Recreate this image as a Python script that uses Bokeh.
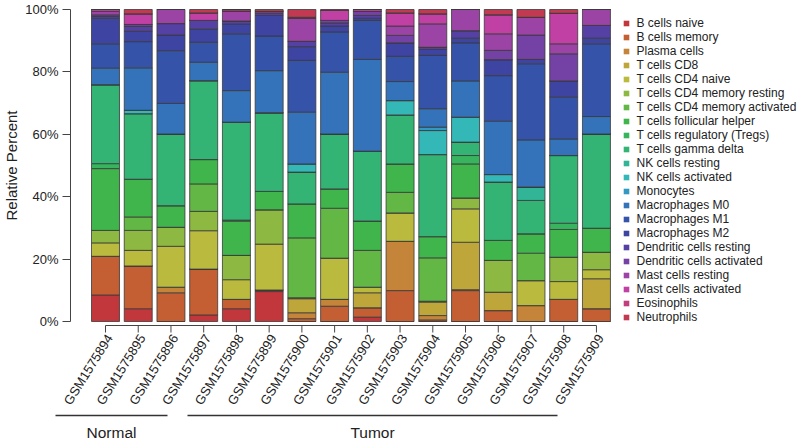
from bokeh.plotting import figure
from bokeh.models import (ColumnDataSource, Range1d, FixedTicker, PrintfTickFormatter,
                          Legend, LegendItem, LabelSet)
from bokeh.embed import file_html
from bokeh.resources import INLINE
from bokeh.core.properties import value

# ---------------- data ----------------
samples = ["GSM1575894", "GSM1575895", "GSM1575896", "GSM1575897", "GSM1575898",
           "GSM1575899", "GSM1575900", "GSM1575901", "GSM1575902", "GSM1575903",
           "GSM1575904", "GSM1575905", "GSM1575906", "GSM1575907", "GSM1575908",
           "GSM1575909"]
group_names = ["Normal", "Tumor"]

cell_types = ["B cells naive", "B cells memory", "Plasma cells", "T cells CD8",
              "T cells CD4 naive", "T cells CD4 memory resting",
              "T cells CD4 memory activated", "T cells follicular helper",
              "T cells regulatory (Tregs)", "T cells gamma delta", "NK cells resting",
              "NK cells activated", "Monocytes", "Macrophages M0", "Macrophages M1",
              "Macrophages M2", "Dendritic cells resting", "Dendritic cells activated",
              "Mast cells resting", "Mast cells activated", "Eosinophils", "Neutrophils"]

colors = ["#C1373C", "#C45E33", "#C4843A", "#BFA63B", "#B9BA3E", "#8DB842",
          "#62B745", "#40B54C", "#38B45E", "#33B474", "#31B596", "#33B7B7",
          "#3499C2", "#3473BA", "#3653AA", "#3D44A2", "#5441A3", "#7442A5",
          "#9C43A6", "#C040A3", "#C23E7E", "#C23A52"]

# percent per sample (16 samples, left to right)
b_cells_naive      = [8.5, 4.1, 0.0, 2.1, 4.1, 9.6, 0.0, 0.0, 1.4, 0.0, 0.0, 0.0, 0.0, 0.0, 0.0, 0.0]
b_cells_memory     = [12.4, 13.7, 9.2, 14.7, 3.0, 0.5, 0.9, 4.9, 3.0, 9.9, 0.5, 9.9, 3.5, 0.0, 7.1, 4.1]
plasma_cells       = [0.0, 0.0, 1.8, 0.0, 0.0, 0.0, 1.9, 2.2, 0.0, 15.8, 1.4, 0.3, 0.0, 5.1, 0.0, 0.0]
t_cd8              = [0.0, 0.0, 0.0, 0.0, 0.0, 0.0, 4.5, 0.0, 4.8, 0.0, 4.3, 15.2, 5.9, 0.0, 0.0, 9.6]
t_cd4_naive        = [4.3, 5.0, 13.1, 12.3, 6.3, 14.7, 0.3, 13.2, 1.8, 9.1, 0.3, 10.7, 0.0, 8.0, 5.7, 2.9]
t_cd4_mem_resting  = [4.0, 6.4, 6.1, 6.2, 7.8, 11.0, 0.0, 0.0, 0.0, 0.0, 0.0, 3.5, 10.2, 0.0, 7.8, 5.6]
t_cd4_mem_act      = [0.0, 4.3, 0.0, 8.8, 0.0, 0.0, 19.2, 16.0, 11.8, 6.6, 13.9, 0.0, 0.0, 8.8, 0.0, 0.0]
t_follicular       = [19.8, 12.1, 6.9, 7.8, 11.0, 5.9, 10.9, 6.2, 9.4, 9.1, 6.8, 10.9, 6.4, 6.2, 8.9, 7.7]
t_tregs            = [1.6, 0.0, 0.0, 0.0, 0.3, 0.0, 0.0, 0.0, 0.0, 0.0, 0.0, 2.7, 0.0, 0.0, 2.0, 0.0]
t_gamma_delta      = [25.3, 21.0, 23.0, 25.3, 31.4, 25.2, 10.2, 17.6, 22.4, 15.7, 26.3, 4.3, 18.7, 10.7, 21.7, 30.2]
nk_resting         = [0.0, 0.0, 0.0, 0.0, 0.0, 0.0, 0.0, 0.0, 0.0, 0.0, 0.0, 0.0, 0.0, 4.3, 0.0, 0.0]
nk_activated       = [0.0, 1.1, 0.0, 0.0, 0.0, 0.0, 2.6, 0.0, 0.0, 4.6, 7.7, 8.0, 2.4, 0.0, 0.0, 0.0]
monocytes          = [0.0, 0.0, 0.0, 0.0, 0.0, 0.0, 0.0, 0.0, 0.0, 0.0, 1.1, 0.0, 0.0, 0.0, 0.0, 0.0]
macrophages_m0     = [5.3, 13.6, 9.8, 5.9, 10.1, 13.5, 16.6, 19.8, 29.4, 6.1, 5.9, 11.6, 17.1, 15.1, 5.3, 5.6]
macrophages_m1     = [7.8, 8.4, 16.9, 6.4, 18.2, 11.1, 16.6, 12.9, 12.5, 8.1, 17.1, 12.2, 14.6, 24.4, 13.4, 23.3]
macrophages_m2     = [8.2, 3.3, 5.0, 4.3, 3.2, 6.6, 4.4, 1.9, 0.7, 4.3, 1.9, 1.5, 5.1, 1.4, 5.2, 1.8]
dendritic_resting  = [0.6, 1.6, 3.7, 2.7, 0.9, 0.7, 1.7, 1.0, 0.9, 0.0, 0.7, 2.4, 0.0, 0.0, 0.0, 4.1]
dendritic_act      = [0.5, 0.6, 0.0, 0.0, 0.0, 0.6, 0.0, 0.8, 1.3, 2.4, 0.0, 0.0, 3.0, 7.8, 8.7, 0.0]
mast_resting       = [1.1, 0.0, 4.5, 0.0, 3.2, 0.0, 7.4, 0.0, 0.0, 3.0, 7.5, 6.8, 5.3, 5.7, 3.2, 5.1]
mast_activated     = [0.6, 3.4, 0.0, 2.4, 0.0, 0.0, 0.0, 3.2, 0.6, 4.2, 3.2, 0.0, 6.1, 0.0, 9.8, 0.0]
eosinophils        = [0.0, 0.0, 0.0, 0.0, 0.5, 0.0, 0.3, 0.0, 0.0, 0.0, 0.0, 0.0, 0.0, 0.0, 0.0, 0.0]
neutrophils        = [0.0, 1.4, 0.0, 1.1, 0.0, 0.6, 2.5, 0.3, 0.0, 1.1, 1.4, 0.0, 1.7, 2.5, 1.2, 0.0]

series = [b_cells_naive, b_cells_memory, plasma_cells, t_cd8, t_cd4_naive,
          t_cd4_mem_resting, t_cd4_mem_act, t_follicular, t_tregs, t_gamma_delta,
          nk_resting, nk_activated, monocytes, macrophages_m0, macrophages_m1,
          macrophages_m2, dendritic_resting, dendritic_act, mast_resting,
          mast_activated, eosinophils, neutrophils]

y_ticks = [0, 20, 40, 60, 80, 100]
y_title = "Relative Percent"

# ---------------- layout ----------------
FONT = "Liberation Sans"
W, H = 800, 440
AXIS_PX = 70           # px of the y axis line
PITCH = 32.73          # px per category
PXPCT = 3.12           # px per percent
X0PX = 105             # px of first bar centre
Y100PX = 9             # px of 100 %

x_start = -X0PX / PITCH
x_end = (W - X0PX) / PITCH
y_end = 100 + Y100PX / PXPCT
y_start = 100 - (H - Y100PX) / PXPCT

def v_of(px_below_zero):
    return -px_below_zero / PXPCT

def dx_of(px):
    return px / PITCH

def x_at(px):
    return (px - X0PX) / PITCH

xs = list(range(len(samples)))
data = dict(x=xs)
for name, vals in zip(cell_types, series):
    data[name] = vals
source = ColumnDataSource(data)

p = figure(width=W, height=H, output_backend="svg", toolbar_location=None,
           x_range=Range1d(x_start, x_end), y_range=Range1d(y_start, y_end),
           x_axis_location=None, min_border_left=0, min_border_right=0,
           min_border_top=0, min_border_bottom=0)
p.outline_line_color = None
p.grid.visible = False
p.background_fill_color = "white"

bars = p.vbar_stack(cell_types, x="x", width=0.855, fill_color=colors,
                    line_color="#3a3a3a", line_width=0.8, source=source)

# y axis (drawn at a fixed location inside the canvas)
ya = p.yaxis[0]
ya.fixed_location = x_at(AXIS_PX)
ya.ticker = FixedTicker(ticks=y_ticks)
ya.formatter = PrintfTickFormatter(format="%d%%")
ya.bounds = (y_ticks[0], y_ticks[-1])
ya.major_label_text_font = FONT
ya.major_label_text_font_size = "13px"
ya.major_label_text_color = "#222222"
ya.major_label_standoff = 4
ya.major_tick_out = 8
ya.major_tick_in = 0
ya.minor_tick_out = 0
ya.minor_tick_in = 0
ya.axis_line_color = "#444444"
ya.major_tick_line_color = "#444444"

p.text(x=[x_at(11)], y=[(y_ticks[0] + y_ticks[-1]) / 2], text=[y_title], angle=90,
       angle_units="deg", text_align="center", text_baseline="middle",
       text_font=value(FONT), text_font_size="15px", text_color="#222222")

# x axis drawn along the bars (axis line, ticks, rotated labels)
ax_y = v_of(4)
tick_y = v_of(11)
p.segment(x0=[xs[0]], x1=[xs[-1]], y0=[ax_y], y1=[ax_y], line_color="#444444", line_width=1)
p.segment(x0=xs, x1=xs, y0=[ax_y] * len(xs), y1=[tick_y] * len(xs),
          line_color="#444444", line_width=1)
lab_src = ColumnDataSource(dict(x=[x + dx_of(4) for x in xs],
                                y=[v_of(14)] * len(xs), text=samples))
p.add_layout(LabelSet(x="x", y="y", text="text", source=lab_src, angle=58,
                      angle_units="deg", text_align="right", text_baseline="middle",
                      text_font=value(FONT), text_font_size="13px",
                      text_color="#222222"))

# group brackets
group_spans = [(x_at(55), x_at(167)), (x_at(187), x_at(557))]
line_y = v_of(94)
text_y = v_of(111)
p.segment(x0=[a for a, b in group_spans], x1=[b for a, b in group_spans],
          y0=[line_y] * 2, y1=[line_y] * 2, line_color="#333333", line_width=1.3)
p.text(x=[(a + b) / 2 for a, b in group_spans], y=[text_y] * 2, text=group_names,
       text_align="center", text_baseline="middle", text_font=value(FONT),
       text_font_size="15.5px", text_color="#222222")

# legend (small squares)
items = []
nan = float("nan")
for name, c in zip(cell_types, colors):
    r = p.scatter(x=[nan], y=[nan], marker="square", size=6, fill_color=c, line_color=None)
    items.append(LegendItem(label=name, renderers=[r]))
n_items = len(cell_types)
legend = Legend(items=items, location=(618.5, H - 16 - 14 * n_items),
                orientation="vertical",
                glyph_width=14, glyph_height=14, label_height=14, spacing=0,
                label_standoff=4, padding=0, margin=0,
                label_text_font=FONT, label_text_font_size="12px",
                label_text_color="#222222", border_line_color=None,
                background_fill_alpha=0)
p.add_layout(legend)

open("out.html", "w").write(file_html(p, INLINE))
